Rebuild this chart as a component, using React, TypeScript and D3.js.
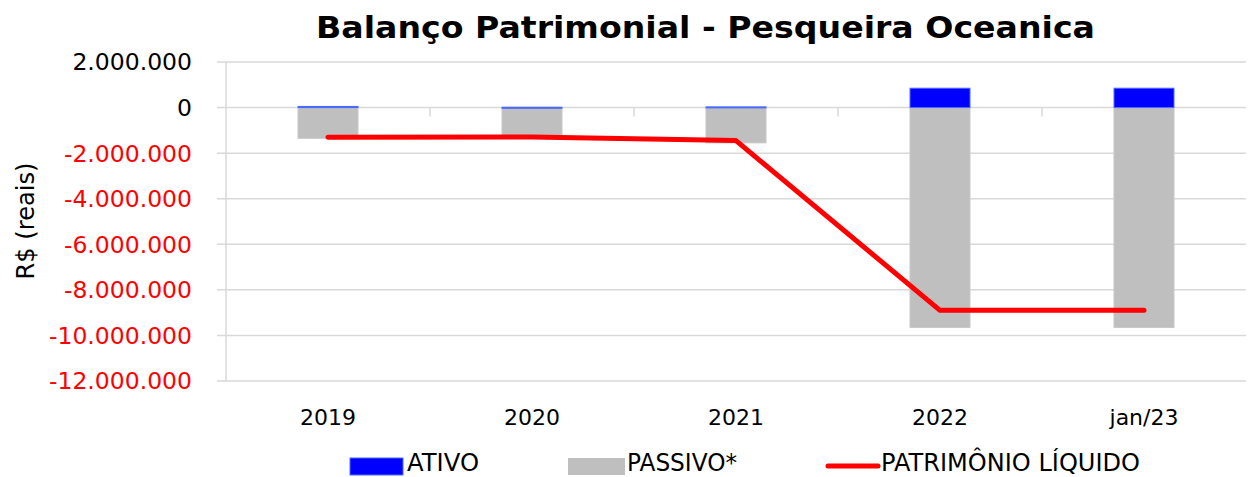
import React from "react";
import * as d3 from "d3";

const categories = ["2019", "2020", "2021", "2022", "jan/23"];
const ativo = [50000, 15000, 30000, 850000, 850000];
const passivo = [-1350000, -1300000, -1550000, -9650000, -9650000];
const patrimonio = [-1300000, -1290000, -1450000, -8900000, -8900000];
const yTicks = [2000000, 0, -2000000, -4000000, -6000000, -8000000, -10000000, -12000000];

const W = 1249, H = 477;
const left = 226, right = 1246, top = 62, bottom = 381;

const fmt = (v: number) => {
  const s = Math.abs(v).toString().replace(/\B(?=(\d{3})+(?!\d))/g, ".");
  return (v < 0 ? "-" : "") + s;
};

export default function App() {
  const x = d3.scaleBand<string>().domain(categories).range([left, right]).paddingInner(0).paddingOuter(0);
  const y = d3.scaleLinear().domain([-12000000, 2000000]).range([bottom, top]);
  const bw = 60;
  const cx = (c: string) => (x(c) as number) + x.bandwidth() / 2;
  const line = d3.line<number>().x((_, i) => cx(categories[i])).y((v) => y(v));
  const font = "'DejaVu Sans', sans-serif";
  const grid = "#D9D9D9";
  return (
    <svg width={W} height={H} style={{ position: "absolute", left: 0, top: 0, background: "#fff" }}>
      <text x={316} y={38} textLength={779} lengthAdjust="spacingAndGlyphs" fontFamily={font} fontWeight="bold" fontSize={30.5} fill="#000">
        Balanço Patrimonial - Pesqueira Oceanica
      </text>
      {yTicks.map((t) => (
        <g key={t}>
          <line x1={217} x2={right} y1={y(t)} y2={y(t)} stroke={grid} strokeWidth={1.5} />
          <text x={192} y={y(t)} dy="0.36em" textAnchor="end" fontFamily={font} fontSize={23.5} fill={t < 0 ? "#FF0000" : "#000"}>
            {fmt(t)}
          </text>
        </g>
      ))}
      <line x1={left} x2={left} y1={top} y2={bottom} stroke={grid} strokeWidth={1.5} />
      {categories.slice(1).map((c) => (
        <line key={c} x1={x(c)} x2={x(c)} y1={y(0)} y2={y(0) + 9} stroke={grid} strokeWidth={1.5} />
      ))}
      <text transform={`translate(34,${221}) rotate(-90)`} textAnchor="middle" textLength={117} lengthAdjust="spacingAndGlyphs" fontFamily={font} fontSize={24} fill="#000">
        R$ (reais)
      </text>
      {categories.map((c, i) => (
        <g key={c}>
          <rect x={cx(c) - bw / 2} y={y(0)} width={bw} height={y(passivo[i]) - y(0)} fill="#BFBFBF" stroke="#C8C8C8" strokeWidth={1} />
          <rect x={cx(c) - bw / 2} y={y(ativo[i])} width={bw} height={Math.max(1, y(0) - y(ativo[i]))} fill="#0000FF" stroke="#4A6CFF" strokeWidth={1} />
          <text x={cx(c)} y={417} dy="0.36em" textAnchor="middle" fontFamily={font} fontSize={22} fill="#000">
            {c}
          </text>
        </g>
      ))}
      <path d={line(patrimonio) || ""} fill="none" stroke="#FF0000" strokeWidth={5} strokeLinecap="round" strokeLinejoin="round" />
      <g fontFamily={font} fontSize={24} fill="#000">
        <rect x={350} y={458} width={53} height={17} fill="#0000FF" stroke="#4A6CFF" />
        <text x={407} y={471} textLength={72} lengthAdjust="spacingAndGlyphs">ATIVO</text>
        <rect x={568} y={458} width={57} height={17} fill="#BFBFBF" />
        <text x={627} y={471} textLength={110} lengthAdjust="spacingAndGlyphs">PASSIVO*</text>
        <line x1={828} x2={878} y1={466} y2={466} stroke="#FF0000" strokeWidth={5} strokeLinecap="round" />
        <text x={881} y={471} textLength={259} lengthAdjust="spacingAndGlyphs">PATRIMÔNIO LÍQUIDO</text>
      </g>
    </svg>
  );
}
